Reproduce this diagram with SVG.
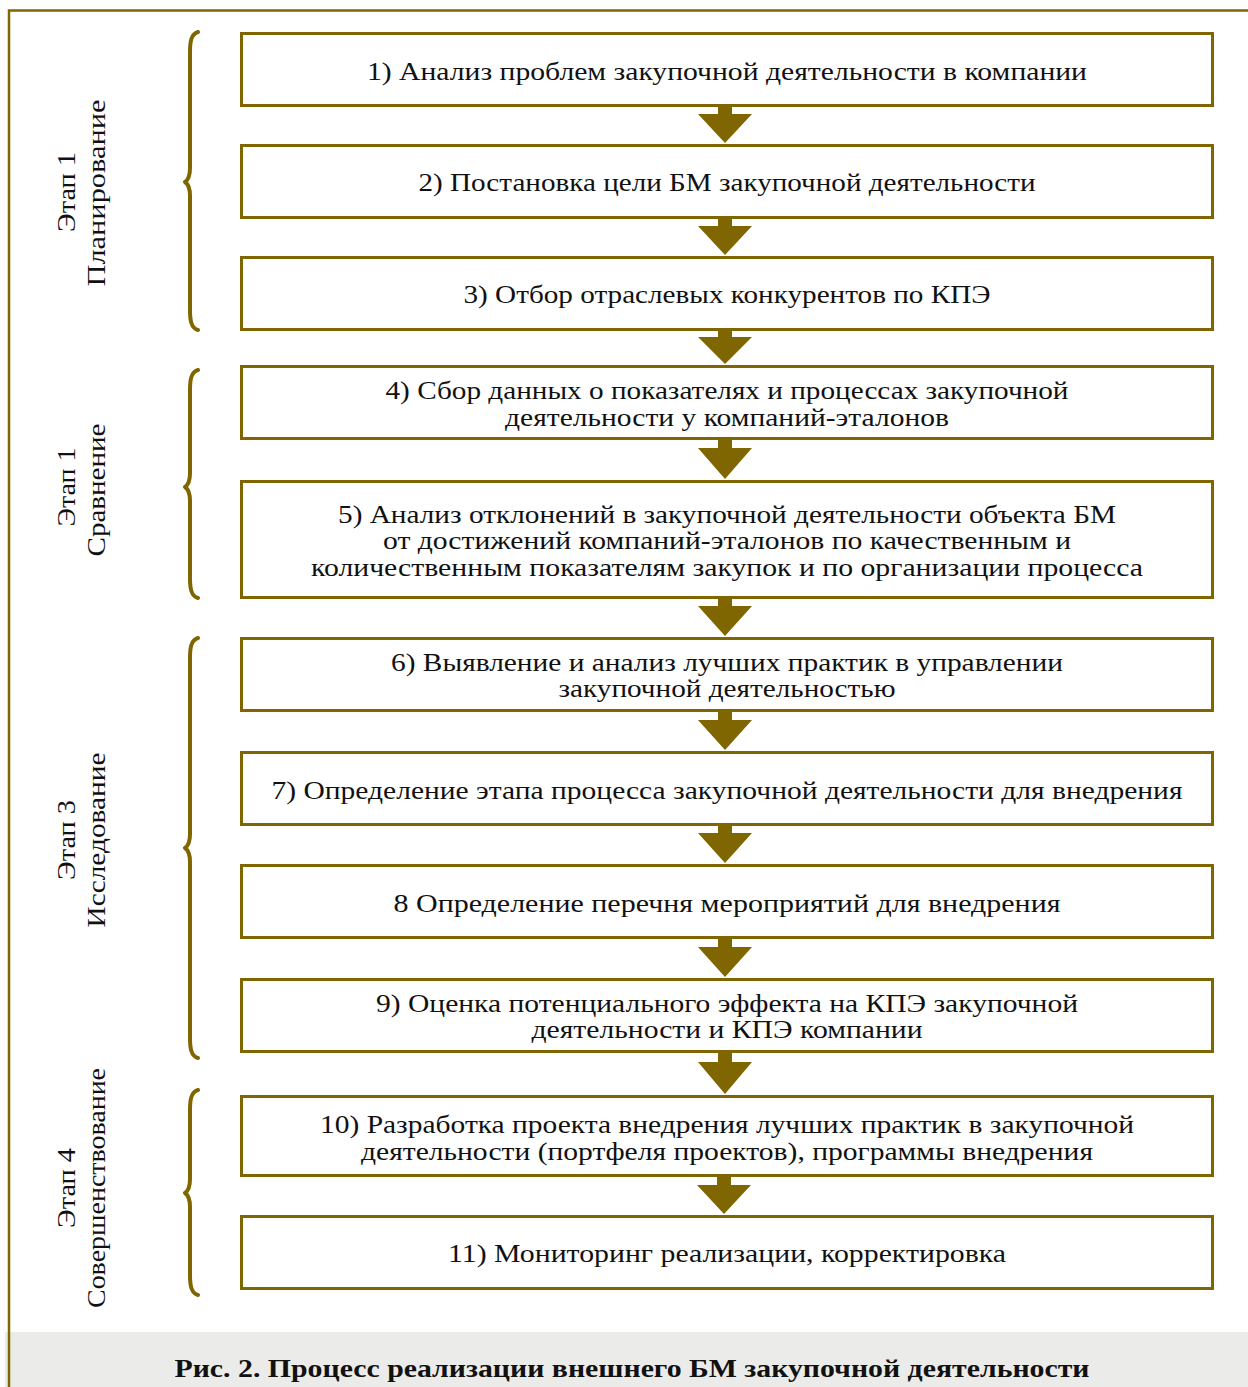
<svg xmlns="http://www.w3.org/2000/svg" width="1248" height="1387" viewBox="0 0 1248 1387">
<style>
.box{fill:#fff;stroke:#806600;stroke-width:3}
.t{font-family:"Liberation Serif","DejaVu Serif",serif;font-size:25px;fill:#111;text-anchor:middle}
.lbl{font-family:"Liberation Serif","DejaVu Serif",serif;font-size:26px;fill:#111;text-anchor:middle}
.cap{font-family:"Liberation Serif","DejaVu Serif",serif;font-size:25px;font-weight:bold;fill:#111;text-anchor:middle}
.brace{fill:none;stroke:#806600;stroke-width:4;stroke-linecap:round;stroke-linejoin:round}
.arr{fill:#806600}
</style>
<rect x="0" y="0" width="1248" height="1387" fill="#fff"/>
<rect x="5" y="1332" width="1243" height="55" fill="#ebecea"/>
<g id="frame" fill="none" stroke="#806600" stroke-width="2.5">
<path d="M9,1387 L9,10.5 L1248,10.5"/>
</g>
<g id="braces">
<path class="brace" d="M198,32 C191,34 190,42 190,52 L190,168 C190,176 188,180 185,182 C188,184 190,188 190,196 L190,310 C190,320 191,328 198,330"/>
<path class="brace" d="M198,370 C191,372 190,380 190,390 L190,473 C190,481 188,485 185,487 C188,489 190,493 190,501 L190,578 C190,588 191,596 198,598"/>
<path class="brace" d="M198,638 C191,640 190,648 190,658 L190,834 C190,842 188,846 185,848 C188,850 190,854 190,862 L190,1038 C190,1048 191,1056 198,1058"/>
<path class="brace" d="M198,1090 C191,1092 190,1100 190,1110 L190,1179 C190,1187 188,1191 185,1193 C188,1195 190,1199 190,1207 L190,1275 C190,1285 191,1293 198,1295"/>
</g>
<g id="stage-labels">
<text class="lbl" transform="translate(75,192) rotate(-90)" textLength="80" lengthAdjust="spacingAndGlyphs">Этап 1</text>
<text class="lbl" transform="translate(105,193) rotate(-90)" textLength="187" lengthAdjust="spacingAndGlyphs">Планирование</text>
<text class="lbl" transform="translate(75,487) rotate(-90)" textLength="79" lengthAdjust="spacingAndGlyphs">Этап 1</text>
<text class="lbl" transform="translate(105,490) rotate(-90)" textLength="133" lengthAdjust="spacingAndGlyphs">Сравнение</text>
<text class="lbl" transform="translate(75,840) rotate(-90)" textLength="80" lengthAdjust="spacingAndGlyphs">Этап 3</text>
<text class="lbl" transform="translate(105,840) rotate(-90)" textLength="175" lengthAdjust="spacingAndGlyphs">Исследование</text>
<text class="lbl" transform="translate(75,1188) rotate(-90)" textLength="80" lengthAdjust="spacingAndGlyphs">Этап 4</text>
<text class="lbl" transform="translate(105,1188) rotate(-90)" textLength="240" lengthAdjust="spacingAndGlyphs">Совершенствование</text>
</g>
<g id="connectors">
<path class="arr" d="M718,106 h14 v8 h20 l-27,29 l-27,-29 h20 z"/>
<path class="arr" d="M718,218 h14 v8 h20 l-27,29 l-27,-29 h20 z"/>
<path class="arr" d="M718,330 h14 v7 h20 l-27,27 l-27,-27 h20 z"/>
<path class="arr" d="M718,439 h14 v9 h20 l-27,31 l-27,-31 h20 z"/>
<path class="arr" d="M718,598 h14 v8 h20 l-27,30 l-27,-30 h20 z"/>
<path class="arr" d="M718,711 h14 v9 h20 l-27,30 l-27,-30 h20 z"/>
<path class="arr" d="M718,825 h14 v8 h20 l-27,30 l-27,-30 h20 z"/>
<path class="arr" d="M718,938 h14 v9 h20 l-27,30 l-27,-30 h20 z"/>
<path class="arr" d="M718,1052 h14 v10 h20 l-27,32 l-27,-32 h20 z"/>
<path class="arr" d="M717,1176 h14 v9 h20 l-27,29 l-27,-29 h20 z"/>
</g>
<g id="n1"><rect class="box" x="241.5" y="33.5" width="971" height="72"/>
<text class="t" x="727" y="80" textLength="720" lengthAdjust="spacingAndGlyphs">1) Анализ проблем закупочной деятельности в компании</text></g>
<g id="n2"><rect class="box" x="241.5" y="145.5" width="971" height="72"/>
<text class="t" x="727" y="191" textLength="617" lengthAdjust="spacingAndGlyphs">2) Постановка цели БМ закупочной деятельности</text></g>
<g id="n3"><rect class="box" x="241.5" y="257.5" width="971" height="72"/>
<text class="t" x="727" y="303" textLength="527" lengthAdjust="spacingAndGlyphs">3) Отбор отраслевых конкурентов по КПЭ</text></g>
<g id="n4"><rect class="box" x="241.5" y="366.5" width="971" height="72"/>
<text class="t" x="727" y="399" textLength="683" lengthAdjust="spacingAndGlyphs">4) Сбор данных о показателях и процессах закупочной</text>
<text class="t" x="727" y="426" textLength="444" lengthAdjust="spacingAndGlyphs">деятельности у компаний-эталонов</text></g>
<g id="n5"><rect class="box" x="241.5" y="481.5" width="971" height="116"/>
<text class="t" x="727" y="523" textLength="778" lengthAdjust="spacingAndGlyphs">5) Анализ отклонений в закупочной деятельности объекта БМ</text>
<text class="t" x="727" y="549" textLength="688" lengthAdjust="spacingAndGlyphs">от достижений компаний-эталонов по качественным и</text>
<text class="t" x="727" y="576" textLength="832" lengthAdjust="spacingAndGlyphs">количественным показателям закупок и по организации процесса</text></g>
<g id="n6"><rect class="box" x="241.5" y="638.5" width="971" height="72"/>
<text class="t" x="727" y="671" textLength="672" lengthAdjust="spacingAndGlyphs">6) Выявление и анализ лучших практик в управлении</text>
<text class="t" x="727" y="697" textLength="337" lengthAdjust="spacingAndGlyphs">закупочной деятельностью</text></g>
<g id="n7"><rect class="box" x="241.5" y="752.5" width="971" height="72"/>
<text class="t" x="727" y="799" textLength="911" lengthAdjust="spacingAndGlyphs">7) Определение этапа процесса закупочной деятельности для внедрения</text></g>
<g id="n8"><rect class="box" x="241.5" y="865.5" width="971" height="72"/>
<text class="t" x="727" y="912" textLength="667" lengthAdjust="spacingAndGlyphs">8 Определение перечня мероприятий для внедрения</text></g>
<g id="n9"><rect class="box" x="241.5" y="979.5" width="971" height="72"/>
<text class="t" x="727" y="1012" textLength="702" lengthAdjust="spacingAndGlyphs">9) Оценка потенциального эффекта на КПЭ закупочной</text>
<text class="t" x="727" y="1038" textLength="391" lengthAdjust="spacingAndGlyphs">деятельности и КПЭ компании</text></g>
<g id="n10"><rect class="box" x="241.5" y="1096.5" width="971" height="79"/>
<text class="t" x="727" y="1133" textLength="814" lengthAdjust="spacingAndGlyphs">10) Разработка проекта внедрения лучших практик в закупочной</text>
<text class="t" x="727" y="1160" textLength="732" lengthAdjust="spacingAndGlyphs">деятельности (портфеля проектов), программы внедрения</text></g>
<g id="n11"><rect class="box" x="241.5" y="1216.5" width="971" height="72"/>
<text class="t" x="727" y="1262" textLength="558" lengthAdjust="spacingAndGlyphs">11) Мониторинг реализации, корректировка</text></g>
<text class="cap" x="632" y="1377" textLength="915" lengthAdjust="spacingAndGlyphs">Рис. 2. Процесс реализации внешнего БМ закупочной деятельности</text>
</svg>
